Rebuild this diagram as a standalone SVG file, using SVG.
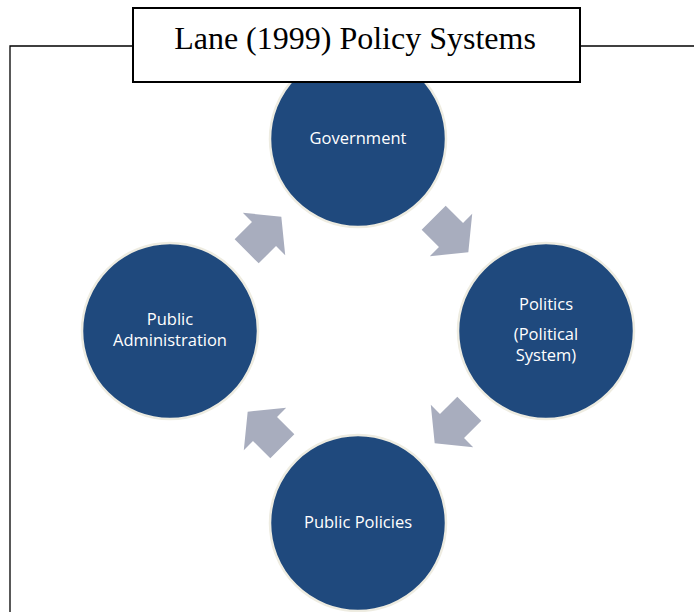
<svg xmlns="http://www.w3.org/2000/svg" width="694" height="612" viewBox="0 0 694 612">
<style>
.node{fill:#1F497D;stroke:#EEECE1;stroke-width:2.5}
.lbl{fill:#FFFFFF;font-family:"Open Sans","Noto Sans","Liberation Sans",sans-serif;font-size:16.5px;text-anchor:middle}
.arr{fill:#A8ADBE}
</style>
<defs>
<path id="arrow" d="M-24.5,-17 L0,-17 L0,-30 L24.5,0 L0,30 L0,17 L-24.5,17 Z"/>
</defs>
<rect width="694" height="612" fill="#FFFFFF"/>
<g id="frame" fill="none" stroke="#000000" stroke-width="1.3">
<polyline points="10,612 10,46 133,46"/>
<line x1="580" y1="46" x2="694" y2="46"/>
</g>
<g id="connectors">
<use href="#arrow" class="arr" transform="translate(264,234) rotate(-45)"/>
<use href="#arrow" class="arr" transform="translate(451,235) rotate(45)"/>
<use href="#arrow" class="arr" transform="translate(452,426) rotate(135)"/>
<use href="#arrow" class="arr" transform="translate(265,429) rotate(-135)"/>
</g>
<g id="government">
<circle class="node" cx="358" cy="139" r="88"/>
<text class="lbl" x="358" y="144">Government</text>
</g>
<g id="politics">
<circle class="node" cx="546" cy="331" r="88"/>
<text class="lbl" x="546" y="310">Politics</text>
<text class="lbl" x="546" y="340">(Political</text>
<text class="lbl" x="546" y="361">System)</text>
</g>
<g id="public-policies">
<circle class="node" cx="358" cy="523" r="88"/>
<text class="lbl" x="358" y="528">Public Policies</text>
</g>
<g id="public-administration">
<circle class="node" cx="170" cy="331" r="88"/>
<text class="lbl" x="170" y="325">Public</text>
<text class="lbl" x="170" y="346">Administration</text>
</g>
<g id="title">
<rect x="133" y="8" width="447" height="74" fill="#FFFFFF" stroke="#000000" stroke-width="2"/>
<text x="355" y="49" font-family="'Liberation Serif','Times New Roman',serif" font-size="32" text-anchor="middle" fill="#000000">Lane (1999) Policy Systems</text>
</g>
</svg>
